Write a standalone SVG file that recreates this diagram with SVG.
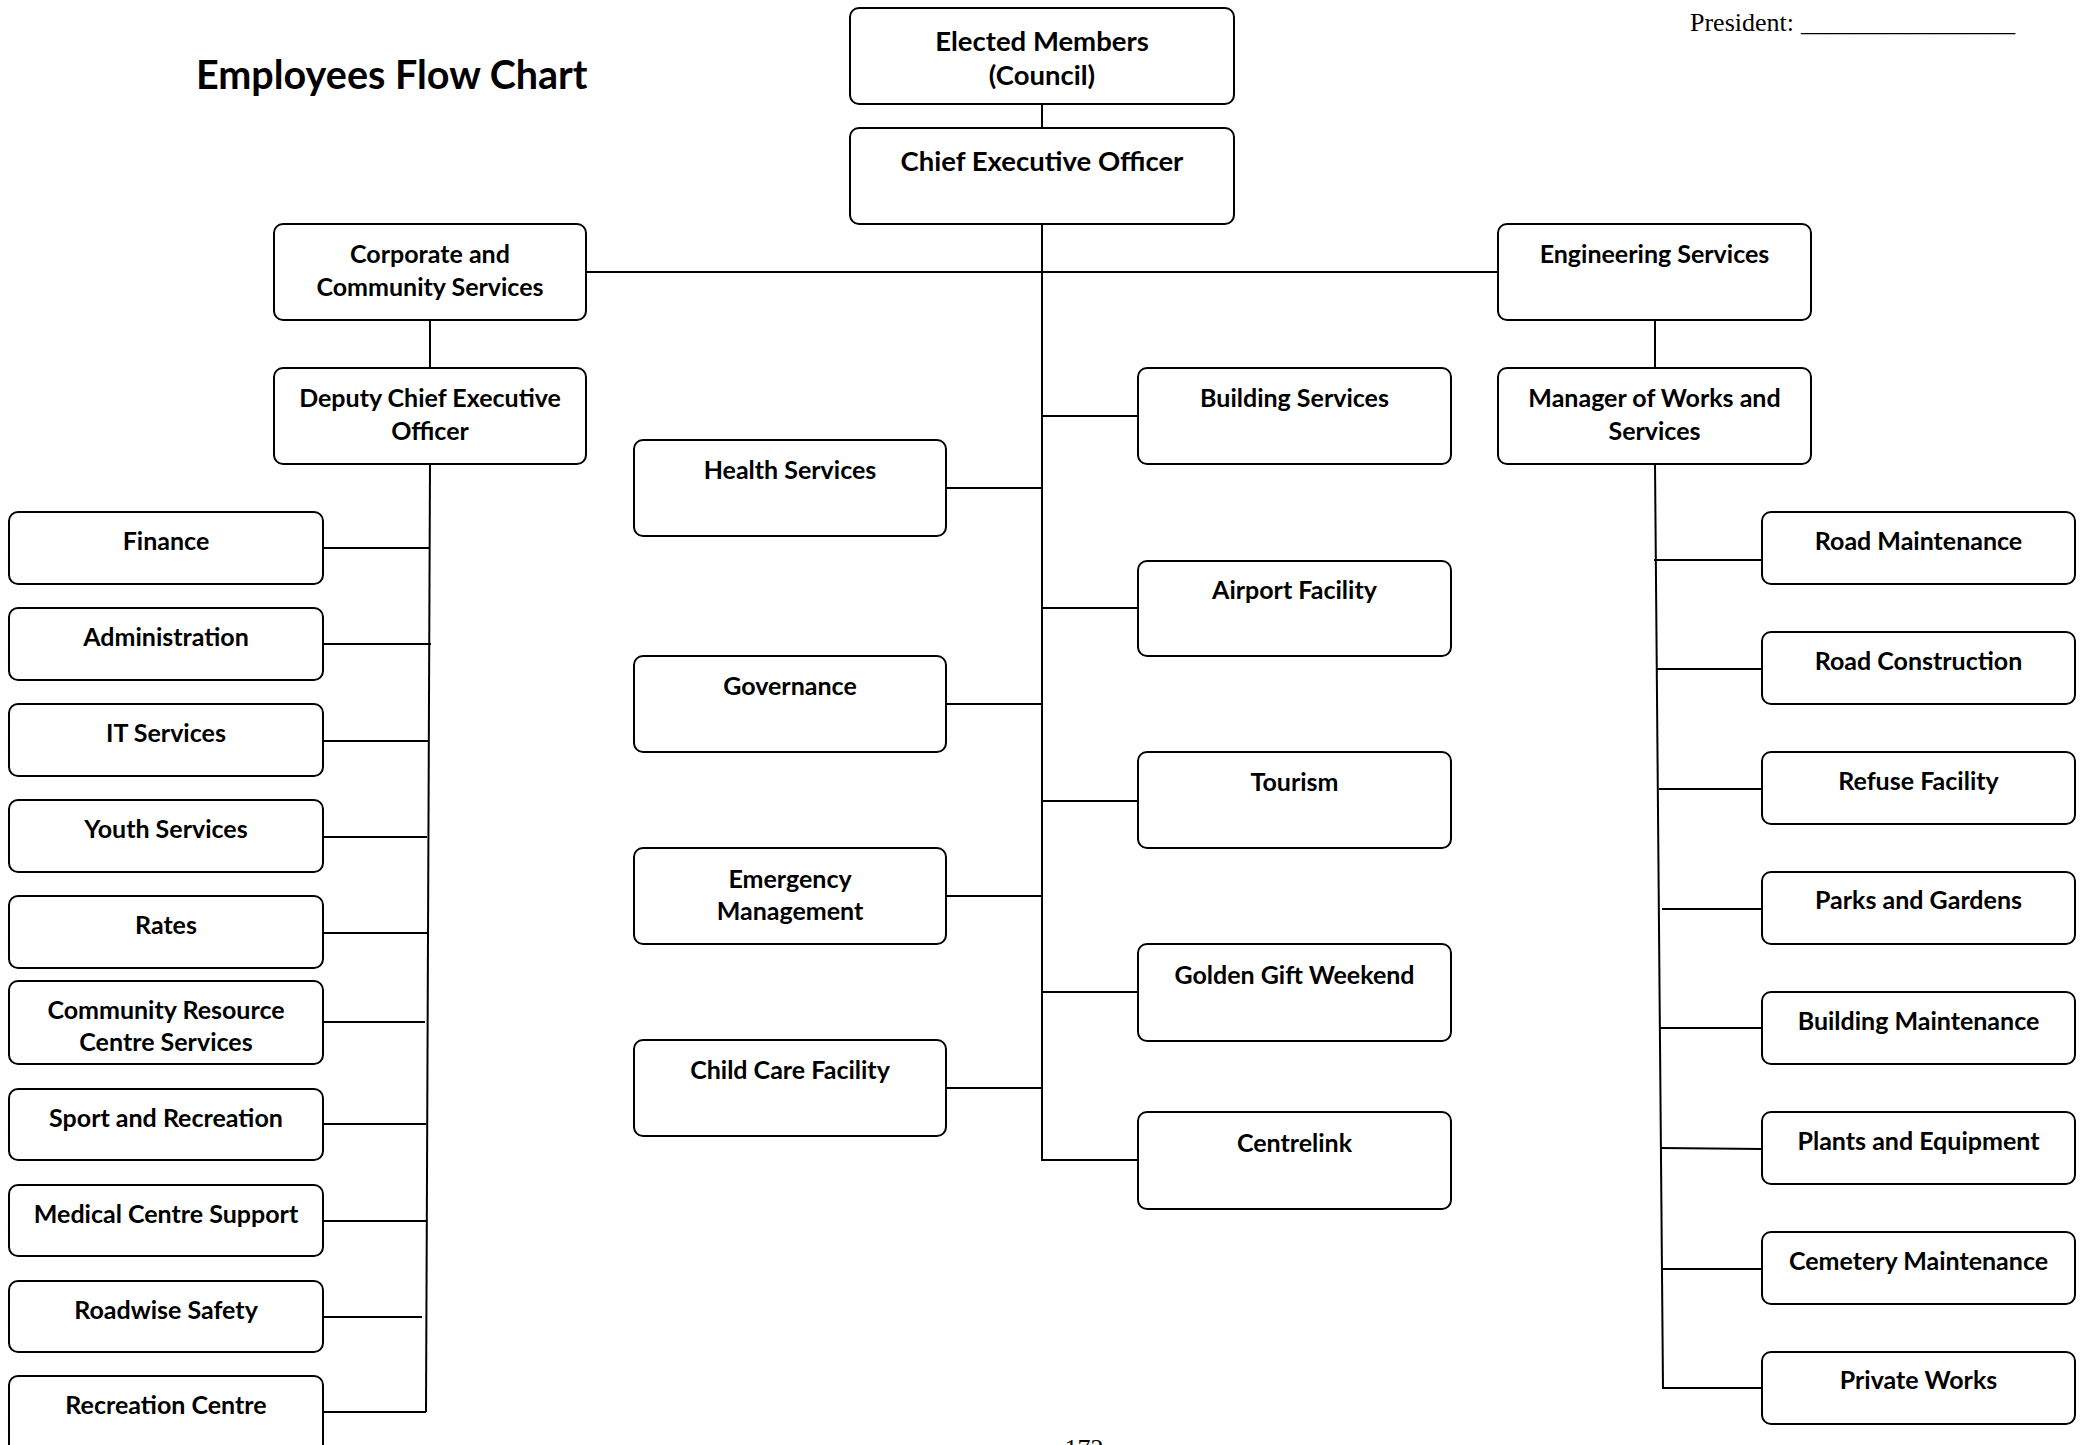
<svg xmlns="http://www.w3.org/2000/svg" width="2089" height="1445" viewBox="0 0 2089 1445">
<style>
.box{fill:#fff;stroke:#000;stroke-width:2}
.t{font-family:Lato,"Open Sans","Liberation Sans",sans-serif;font-weight:bold;font-size:25px;fill:#000;text-anchor:middle}
.big{font-size:27.5px}
.ln{stroke:#000;stroke-width:2;fill:none}
.serif{font-family:"Liberation Serif","Times New Roman",serif;font-size:26px;fill:#000}
</style>
<rect width="2089" height="1445" fill="#fff"/>
<text x="196" y="89" style="font-family:Lato,'Open Sans',sans-serif;font-weight:bold;font-size:39.5px">Employees Flow Chart</text>
<text class="serif" x="1690" y="31">President: <tspan x="1801" textLength="214" lengthAdjust="spacingAndGlyphs">________________</tspan></text>
<text class="serif" x="1084" y="1457" text-anchor="middle">172</text>

<g id="connectors">
<line class="ln" x1="1042" y1="104" x2="1042" y2="128"/>
<line class="ln" x1="1042" y1="224" x2="1042" y2="1160"/>
<line class="ln" x1="586" y1="272" x2="1498" y2="272"/>
<line class="ln" x1="430" y1="320" x2="430" y2="368"/>
<line class="ln" x1="1655" y1="320" x2="1655" y2="368"/>
<line class="ln" x1="430" y1="464" x2="426" y2="1412"/>
<line class="ln" x1="323" y1="548" x2="429" y2="548"/>
<line class="ln" x1="323" y1="644" x2="431" y2="644"/>
<line class="ln" x1="323" y1="741" x2="428" y2="741"/>
<line class="ln" x1="323" y1="837" x2="427" y2="837"/>
<line class="ln" x1="323" y1="933" x2="428" y2="933"/>
<line class="ln" x1="323" y1="1022" x2="425" y2="1022"/>
<line class="ln" x1="323" y1="1124" x2="426" y2="1124"/>
<line class="ln" x1="323" y1="1221" x2="426" y2="1221"/>
<line class="ln" x1="323" y1="1317" x2="422" y2="1317"/>
<line class="ln" x1="323" y1="1412" x2="426" y2="1412"/>
<line class="ln" x1="946" y1="488" x2="1042" y2="488"/>
<line class="ln" x1="946" y1="704" x2="1042" y2="704"/>
<line class="ln" x1="946" y1="896" x2="1042" y2="896"/>
<line class="ln" x1="946" y1="1088" x2="1042" y2="1088"/>
<line class="ln" x1="1042" y1="416" x2="1138" y2="416"/>
<line class="ln" x1="1042" y1="608" x2="1138" y2="608"/>
<line class="ln" x1="1042" y1="801" x2="1138" y2="801"/>
<line class="ln" x1="1042" y1="992" x2="1138" y2="992"/>
<line class="ln" x1="1041" y1="1160" x2="1138" y2="1160"/>
<line class="ln" x1="1655" y1="464" x2="1663" y2="1389"/>
<line class="ln" x1="1654" y1="560" x2="1762" y2="560"/>
<line class="ln" x1="1657" y1="669" x2="1762" y2="669"/>
<line class="ln" x1="1659" y1="789" x2="1762" y2="789"/>
<line class="ln" x1="1662" y1="909" x2="1762" y2="909"/>
<line class="ln" x1="1660" y1="1028" x2="1762" y2="1028"/>
<line class="ln" x1="1661" y1="1148" x2="1762" y2="1149"/>
<line class="ln" x1="1662" y1="1269" x2="1762" y2="1269"/>
<line class="ln" x1="1662" y1="1388" x2="1762" y2="1388"/>
</g>

<g id="elected"><rect class="box" x="850" y="8" width="384" height="96" rx="9"/><text class="t big" x="1042" y="51">Elected Members</text><text class="t big" x="1042" y="85">(Council)</text></g>
<g id="ceo"><rect class="box" x="850" y="128" width="384" height="96" rx="9"/><text class="t big" x="1042" y="171">Chief Executive Officer</text></g>
<g id="corporate"><rect class="box" x="274" y="224" width="312" height="96" rx="9"/><text class="t" x="430" y="263">Corporate and</text><text class="t" x="430" y="296">Community Services</text></g>
<g id="engineering"><rect class="box" x="1498" y="224" width="313" height="96" rx="9"/><text class="t" x="1654.5" y="263">Engineering Services</text></g>
<g id="dceo"><rect class="box" x="274" y="368" width="312" height="96" rx="9"/><text class="t" x="430" y="407">Deputy Chief Executive</text><text class="t" x="430" y="440">Officer</text></g>
<g id="manager"><rect class="box" x="1498" y="368" width="313" height="96" rx="9"/><text class="t" x="1654.5" y="407">Manager of Works and</text><text class="t" x="1654.5" y="440">Services</text></g>

<g id="finance"><rect class="box" x="9" y="512" width="314" height="72" rx="9"/><text class="t" x="166" y="550">Finance</text></g>
<g id="administration"><rect class="box" x="9" y="608" width="314" height="72" rx="9"/><text class="t" x="166" y="646">Administration</text></g>
<g id="it-services"><rect class="box" x="9" y="704" width="314" height="72" rx="9"/><text class="t" x="166" y="742">IT Services</text></g>
<g id="youth-services"><rect class="box" x="9" y="800" width="314" height="72" rx="9"/><text class="t" x="166" y="838">Youth Services</text></g>
<g id="rates"><rect class="box" x="9" y="896" width="314" height="72" rx="9"/><text class="t" x="166" y="934">Rates</text></g>
<g id="community-resource"><rect class="box" x="9" y="981" width="314" height="83" rx="9"/><text class="t" x="166" y="1019">Community Resource</text><text class="t" x="166" y="1051">Centre Services</text></g>
<g id="sport"><rect class="box" x="9" y="1089" width="314" height="71" rx="9"/><text class="t" x="166" y="1127">Sport and Recreation</text></g>
<g id="medical"><rect class="box" x="9" y="1185" width="314" height="71" rx="9"/><text class="t" x="166" y="1223">Medical Centre Support</text></g>
<g id="roadwise"><rect class="box" x="9" y="1281" width="314" height="71" rx="9"/><text class="t" x="166" y="1319">Roadwise Safety</text></g>
<g id="recreation-centre"><rect class="box" x="9" y="1376" width="314" height="80" rx="9"/><text class="t" x="166" y="1414">Recreation Centre</text></g>

<g id="health"><rect class="box" x="634" y="440" width="312" height="96" rx="9"/><text class="t" x="790" y="479">Health Services</text></g>
<g id="governance"><rect class="box" x="634" y="656" width="312" height="96" rx="9"/><text class="t" x="790" y="695">Governance</text></g>
<g id="emergency"><rect class="box" x="634" y="848" width="312" height="96" rx="9"/><text class="t" x="790" y="888">Emergency</text><text class="t" x="790" y="920">Management</text></g>
<g id="childcare"><rect class="box" x="634" y="1040" width="312" height="96" rx="9"/><text class="t" x="790" y="1079">Child Care Facility</text></g>

<g id="building-services"><rect class="box" x="1138" y="368" width="313" height="96" rx="9"/><text class="t" x="1294.5" y="407">Building Services</text></g>
<g id="airport"><rect class="box" x="1138" y="561" width="313" height="95" rx="9"/><text class="t" x="1294.5" y="599">Airport Facility</text></g>
<g id="tourism"><rect class="box" x="1138" y="752" width="313" height="96" rx="9"/><text class="t" x="1294.5" y="791">Tourism</text></g>
<g id="golden-gift"><rect class="box" x="1138" y="944" width="313" height="97" rx="9"/><text class="t" x="1294.5" y="984">Golden Gift Weekend</text></g>
<g id="centrelink"><rect class="box" x="1138" y="1112" width="313" height="97" rx="9"/><text class="t" x="1294.5" y="1152">Centrelink</text></g>

<g id="road-maintenance"><rect class="box" x="1762" y="512" width="313" height="72" rx="9"/><text class="t" x="1918.5" y="550">Road Maintenance</text></g>
<g id="road-construction"><rect class="box" x="1762" y="632" width="313" height="72" rx="9"/><text class="t" x="1918.5" y="670">Road Construction</text></g>
<g id="refuse"><rect class="box" x="1762" y="752" width="313" height="72" rx="9"/><text class="t" x="1918.5" y="790">Refuse Facility</text></g>
<g id="parks"><rect class="box" x="1762" y="872" width="313" height="72" rx="9"/><text class="t" x="1918.5" y="909">Parks and Gardens</text></g>
<g id="building-maintenance"><rect class="box" x="1762" y="992" width="313" height="72" rx="9"/><text class="t" x="1918.5" y="1030">Building Maintenance</text></g>
<g id="plants"><rect class="box" x="1762" y="1112" width="313" height="72" rx="9"/><text class="t" x="1918.5" y="1150">Plants and Equipment</text></g>
<g id="cemetery"><rect class="box" x="1762" y="1232" width="313" height="72" rx="9"/><text class="t" x="1918.5" y="1270">Cemetery Maintenance</text></g>
<g id="private-works"><rect class="box" x="1762" y="1352" width="313" height="72" rx="9"/><text class="t" x="1918.5" y="1389">Private Works</text></g>
</svg>
